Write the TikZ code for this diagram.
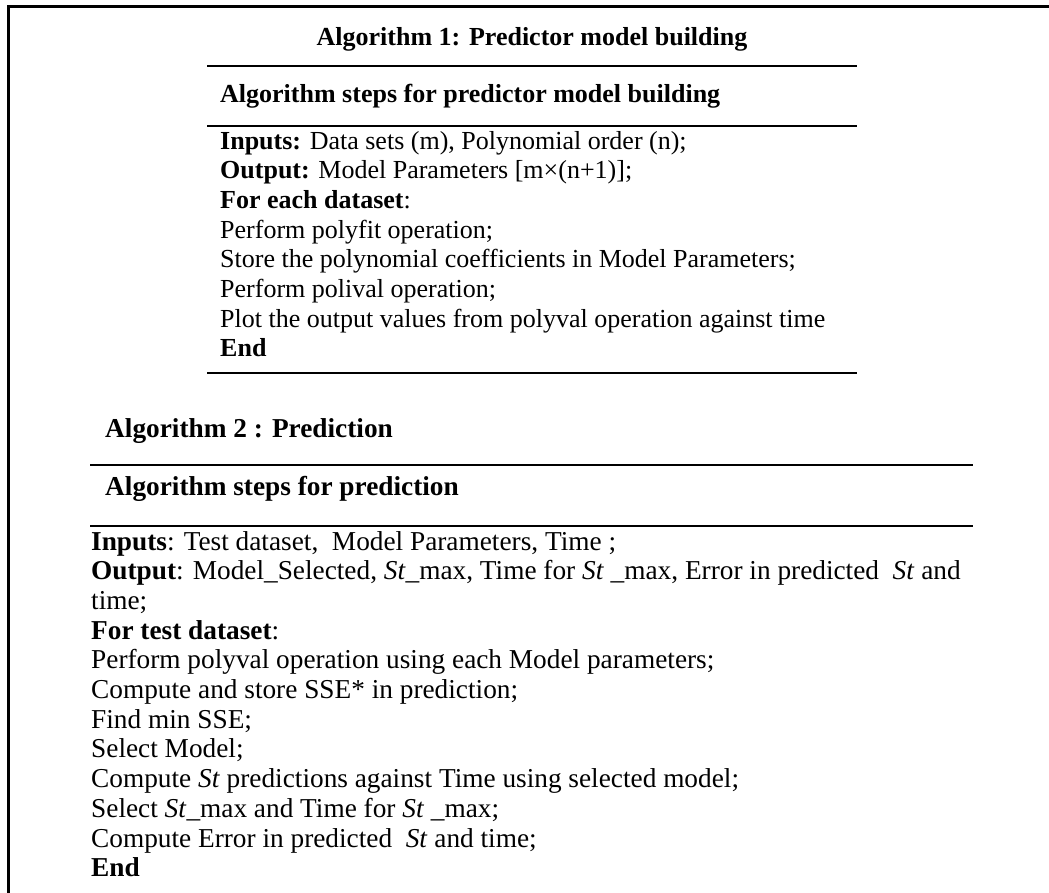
\documentclass[tikz,border=0pt]{standalone}
\usepackage{fontspec}
\setmainfont{Liberation Serif}
\usetikzlibrary{positioning}

\begin{document}
\begin{tikzpicture}[x=1pt,y=-1pt]
    \tikzset{
        rowtext/.style={anchor=base west, inner sep=0pt, font=\fontsize{26}{30}\selectfont},
        rowtextB/.style={rowtext, font=\fontsize{27.3}{30}\selectfont},
        rule/.style={line width=2pt},
    }
    \newcommand{\St}{\textit{St}}
  \useasboundingbox (0,0) rectangle (1049,892);
  % outer frame, cut by the page on the right and at the bottom
  \draw[line width=3pt] (8,910) -- (8,6) -- (1070,6);

  % Algorithm 1
  \node[rowtext, anchor=base] (titleA) at (532,45) {\textbf{Algorithm 1: Predictor model building}};
  \draw[rule] (207,66) -- (857,66);
  \node[rowtext] (headA) at (220,102) {\textbf{Algorithm steps for predictor model building}};
  \draw[rule] (207,126) -- (857,126);
  \foreach \txt [count=\i] in {
      {\textbf{Inputs:} Data sets (m), Polynomial order (n);},
      {\textbf{Output:} Model Parameters [m×(n+1)];},
      {\textbf{For each dataset}:},
      {Perform polyfit operation;},
      {Store the polynomial coefficients in Model Parameters;},
      {Perform polival operation;},
      {Plot the output values from polyval operation against time},
      {\textbf{End}}}
    \node[rowtext] (stepA\i) at (220,{149+(\i-1)*29.7}) {\txt};
  \draw[rule] (207,373) -- (857,373);

  % Algorithm 2
  \node[rowtextB] (titleB) at (105,437) {\textbf{Algorithm 2 : Prediction}};
  \draw[rule] (90,465) -- (973,465);
  \node[rowtextB] (headB) at (105,495) {\textbf{Algorithm steps for prediction}};
  \draw[rule] (90,526) -- (973,526);
  \foreach \txt [count=\i] in {
      {\textbf{Inputs}: Test dataset,\ \ Model Parameters, Time ;},
      {\textbf{Output}: Model\_Selected, \St\_max, Time for \St\ \_max, Error in predicted \ \St\ and},
      {time;},
      {\textbf{For test dataset}:},
      {Perform polyval operation using each Model parameters;},
      {Compute and store SSE* in prediction;},
      {Find min SSE;},
      {Select Model;},
      {Compute \St\ predictions against Time using selected model;},
      {Select \St\_max and Time for \St\ \_max;},
      {Compute Error in predicted \ \St\ and time;},
      {\textbf{End}}}
    \node[rowtextB] (stepB\i) at (91,{550+(\i-1)*29.7}) {\txt};

\end{tikzpicture}
\end{document}
